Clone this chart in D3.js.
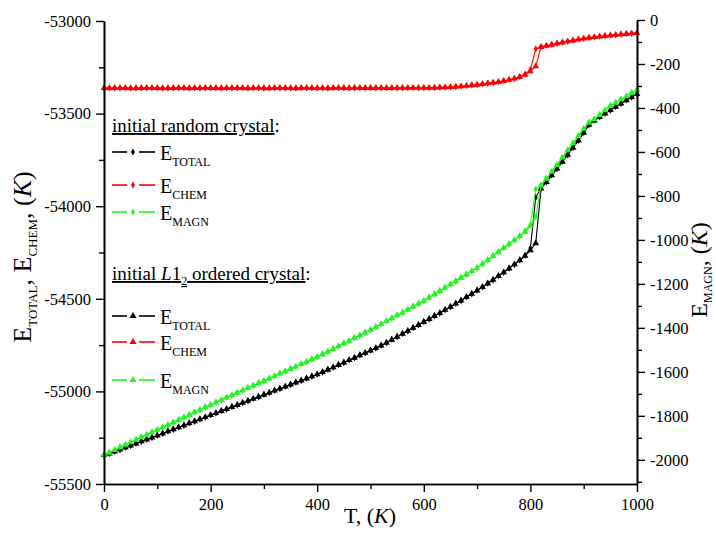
<!DOCTYPE html>
<html><head><meta charset="utf-8">
<script src="https://cdn.jsdelivr.net/npm/d3@7"></script>
<style>
body{margin:0;background:#fff}
svg{display:block}
svg text{font-family:"Liberation Serif","Times New Roman",serif !important;fill:#000}
</style>
</head><body>
<svg id="chart" width="716" height="538"></svg>
<script>
// ---------------- data ----------------
const tempK = [0,10,20,30,40,50,60,70,80,90,100,110,120,130,140,150,160,170,180,190,
200,210,220,230,240,250,260,270,280,290,300,310,320,330,340,350,360,370,380,390,
400,410,420,430,440,450,460,470,480,490,500,510,520,530,540,550,560,570,580,590,
600,610,620,630,640,650,660,670,680,690,700,710,720,730,740,750,760,770,780,790,
800,810,820,830,840,850,860,870,880,890,900,910,920,930,940,950,960,970,980,990,1000];

// initial L1_2 ordered crystal
const l12Total = [-55344,-55335,-55325,-55314,-55303,-55292,-55281,-55270,-55260,-55249,
-55238,-55227,-55216,-55205,-55194,-55183,-55172,-55161,-55150,-55139,
-55128,-55117,-55106,-55095,-55084,-55073,-55062,-55051,-55040,-55029,
-55018,-55007,-54996,-54985,-54974,-54963,-54952,-54941,-54930,-54919,
-54908,-54896,-54883,-54870,-54857,-54844,-54831,-54818,-54805,-54792,
-54779,-54766,-54752,-54737,-54721,-54705,-54689,-54673,-54657,-54641,
-54625,-54609,-54593,-54577,-54560,-54543,-54526,-54509,-54491,-54473,
-54455,-54436,-54417,-54397,-54377,-54357,-54336,-54314,-54292,-54268,
-54238,-54200,-53905,-53870,-53833,-53797,-53760,-53722,-53684,-53645,
-53603,-53560,-53538,-53518,-53499,-53481,-53463,-53445,-53428,-53411,-53394];

const l12Chem = [-53362,-53363,-53362,-53361,-53362,-53363,-53362,-53362,-53361,-53362,
-53362,-53363,-53362,-53362,-53361,-53362,-53363,-53362,-53362,-53361,
-53362,-53362,-53363,-53362,-53361,-53362,-53362,-53363,-53362,-53361,
-53362,-53363,-53362,-53361,-53362,-53362,-53363,-53362,-53361,-53362,
-53362,-53362,-53363,-53362,-53361,-53362,-53362,-53361,-53362,-53362,
-53362,-53362,-53361,-53362,-53362,-53361,-53361,-53362,-53361,-53361,
-53361,-53361,-53360,-53359,-53358,-53357,-53355,-53353,-53350,-53347,
-53344,-53341,-53337,-53333,-53329,-53324,-53318,-53311,-53302,-53290,
-53272,-53245,-53140,-53134,-53128,-53122,-53116,-53110,-53105,-53100,
-53095,-53091,-53087,-53084,-53081,-53078,-53075,-53072,-53070,-53067,-53065];

const l12Magn = [-1977,-1968,-1955,-1943,-1932,-1920,-1909,-1897,-1886,-1875,
-1864,-1853,-1841,-1830,-1818,-1807,-1796,-1784,-1773,-1761,
-1750,-1739,-1728,-1717,-1706,-1695,-1684,-1673,-1662,-1652,
-1641,-1630,-1619,-1608,-1597,-1587,-1576,-1565,-1554,-1543,
-1532,-1520,-1508,-1495,-1483,-1471,-1459,-1446,-1434,-1421,
-1409,-1396,-1383,-1369,-1356,-1343,-1330,-1317,-1303,-1290,
-1277,-1262,-1247,-1232,-1217,-1202,-1187,-1172,-1157,-1142,
-1127,-1109,-1091,-1073,-1055,-1037,-1019,-1001,-982,-964,
-936,-898,-753,-722,-690,-659,-626,-593,-561,-528,
-495,-466,-451,-432,-411,-391,-376,-361,-347,-332,-318];

// initial random crystal
const rndTotal = [-55346,-55336,-55324,-55316,-55302,-55293,-55280,-55271,-55259,-55250,
-55237,-55228,-55215,-55206,-55193,-55184,-55171,-55162,-55149,-55140,
-55127,-55118,-55105,-55096,-55083,-55074,-55061,-55052,-55039,-55030,
-55017,-55008,-54995,-54986,-54973,-54964,-54951,-54942,-54929,-54920,
-54907,-54897,-54882,-54871,-54856,-54845,-54830,-54819,-54804,-54793,
-54778,-54767,-54751,-54738,-54720,-54706,-54688,-54674,-54656,-54642,
-54624,-54610,-54592,-54578,-54559,-54544,-54525,-54510,-54490,-54474,
-54454,-54437,-54416,-54398,-54376,-54358,-54335,-54315,-54291,-54266,
-54226,-53952,-53903,-53869,-53832,-53798,-53759,-53723,-53683,-53646,
-53602,-53561,-53537,-53519,-53498,-53482,-53462,-53446,-53427,-53412,-53393];

const rndChem = [-53363,-53362,-53362,-53362,-53361,-53362,-53363,-53362,-53362,-53361,
-53362,-53362,-53363,-53362,-53362,-53361,-53362,-53362,-53363,-53362,
-53361,-53362,-53362,-53362,-53363,-53362,-53361,-53362,-53362,-53362,
-53363,-53362,-53361,-53362,-53362,-53363,-53362,-53361,-53362,-53362,
-53363,-53362,-53362,-53361,-53362,-53362,-53363,-53362,-53361,-53362,
-53361,-53362,-53362,-53361,-53361,-53362,-53362,-53361,-53361,-53362,
-53360,-53361,-53360,-53358,-53358,-53356,-53355,-53352,-53350,-53346,
-53343,-53340,-53336,-53333,-53328,-53323,-53317,-53310,-53300,-53287,
-53262,-53150,-53139,-53133,-53127,-53121,-53115,-53110,-53104,-53099,
-53094,-53090,-53087,-53083,-53080,-53077,-53075,-53072,-53069,-53067,-53064];

const rndMagn = [-1979,-1966,-1956,-1942,-1933,-1919,-1910,-1896,-1887,-1874,
-1865,-1852,-1842,-1829,-1819,-1806,-1797,-1783,-1774,-1760,
-1751,-1738,-1729,-1716,-1707,-1694,-1685,-1672,-1663,-1651,
-1642,-1629,-1620,-1607,-1598,-1586,-1577,-1564,-1555,-1542,
-1533,-1519,-1509,-1494,-1484,-1470,-1460,-1445,-1435,-1420,
-1410,-1395,-1384,-1368,-1357,-1342,-1331,-1316,-1304,-1289,
-1278,-1261,-1248,-1231,-1218,-1201,-1188,-1171,-1158,-1141,
-1128,-1108,-1092,-1072,-1056,-1036,-1020,-1000,-983,-958,
-930,-770,-751,-721,-691,-658,-627,-592,-562,-527,
-496,-465,-452,-431,-412,-390,-377,-360,-348,-331,-319];

const xTicks = [0,200,400,600,800,1000];
const xMinor = [100,300,500,700,900];
const leftTicks = [-55500,-55000,-54500,-54000,-53500,-53000];
const leftMinor = [-55250,-54750,-54250,-53750,-53250];
const rightTicks = [-2000,-1800,-1600,-1400,-1200,-1000,-800,-600,-400,-200,0];
const rightMinor = [-2100,-1900,-1700,-1500,-1300,-1100,-900,-700,-500,-300,-100];

// ---------------- drawing ----------------
const FONT = '"Liberation Serif","Times New Roman",serif';
const svg = d3.select("#chart");
svg.append("rect").attr("width",716).attr("height",538).attr("fill","#fff");

const x = d3.scaleLinear().domain([0,1000]).range([104,637]);
const yL = d3.scaleLinear().domain([-55500,-53000]).range([484,21]);
const yR = d3.scaleLinear().domain([-2110,0]).range([484,20]);

const BLACK="#000", RED="#ff0000", GREEN="#22f522";

function styleAxis(g){
  g.attr("font-family",FONT).style("font-family",FONT);
  g.selectAll("path.domain").attr("stroke","#000").attr("stroke-width",1.6);
  g.selectAll(".tick line").attr("stroke","#000").attr("stroke-width",1.4);
  g.selectAll(".tick text").style("font-family",FONT).attr("font-size",16.5).attr("fill","#000");
}

// series
function drawSeries(vals, scale, color, sym, size){
  const pts = tempK.map((t,i)=>[x(t), scale(vals[i])]);
  const gg = svg.append("g");
  gg.append("path").attr("d", d3.line()(pts)).attr("fill","none")
    .attr("stroke",color).attr("stroke-width",1.1);
  gg.selectAll("path.m").data(pts).join("path").attr("class","m")
    .attr("transform", d=>`translate(${d[0]},${d[1]})`)
    .attr("d", d3.symbol(sym,size)()).attr("fill",color);
}
drawSeries(rndTotal, yL, BLACK, d3.symbolDiamond, 14);
drawSeries(rndChem, yL, RED, d3.symbolDiamond, 14);
drawSeries(rndMagn, yR, GREEN, d3.symbolDiamond, 14);
drawSeries(l12Total, yL, BLACK, d3.symbolTriangle, 20);
drawSeries(l12Chem, yL, RED, d3.symbolTriangle, 20);
drawSeries(l12Magn, yR, GREEN, d3.symbolTriangle, 20);

// axes
const gx = svg.append("g").attr("transform","translate(0,484)")
  .call(d3.axisBottom(x).tickValues(xTicks).tickSize(8).tickSizeOuter(0).tickPadding(6).tickFormat(d=>String(d)));
styleAxis(gx);
const gxm = svg.append("g").attr("transform","translate(0,484)")
  .call(d3.axisBottom(x).tickValues(xMinor).tickSize(5).tickSizeOuter(0).tickFormat(""));
styleAxis(gxm);

const gl = svg.append("g").attr("transform","translate(104,0)")
  .call(d3.axisLeft(yL).tickValues(leftTicks).tickSize(8).tickSizeOuter(0).tickPadding(5).tickFormat(d=>String(d)));
styleAxis(gl);
const glm = svg.append("g").attr("transform","translate(104,0)")
  .call(d3.axisLeft(yL).tickValues(leftMinor).tickSize(5).tickSizeOuter(0).tickFormat(""));
styleAxis(glm);

const gr = svg.append("g").attr("transform","translate(637,0)")
  .call(d3.axisRight(yR).tickValues(rightTicks).tickSize(8).tickSizeOuter(0).tickPadding(5).tickFormat(d=>String(d)));
styleAxis(gr);
const grm = svg.append("g").attr("transform","translate(637,0)")
  .call(d3.axisRight(yR).tickValues(rightMinor).tickSize(5).tickSizeOuter(0).tickFormat(""));
styleAxis(grm);

// axis titles
const xt = svg.append("text").attr("x",370).attr("y",523).attr("text-anchor","middle").attr("font-size",22);
xt.append("tspan").text("T, (");
xt.append("tspan").attr("font-style","italic").text("K");
xt.append("tspan").text(")");

const lt = svg.append("text").attr("transform","translate(31,257) rotate(-90)")
  .attr("text-anchor","middle").attr("font-size",26);
lt.append("tspan").text("E");
lt.append("tspan").attr("font-size",13).attr("dy",6).text("TOTAL");
lt.append("tspan").attr("dy",-6).text(", E");
lt.append("tspan").attr("font-size",13).attr("dy",6).text("CHEM");
lt.append("tspan").attr("dy",-6).text(", (");
lt.append("tspan").attr("font-style","italic").text("K");
lt.append("tspan").text(")");

const rt = svg.append("text").attr("transform","translate(707,270) rotate(-90)")
  .attr("text-anchor","middle").attr("font-size",24);
rt.append("tspan").text("E");
rt.append("tspan").attr("font-size",12).attr("dy",5).text("MAGN");
rt.append("tspan").attr("dy",-5).text(", (");
rt.append("tspan").attr("font-style","italic").text("K");
rt.append("tspan").text(")");

// legend
function header(yb, parts){
  const t = svg.append("text").attr("x",112).attr("y",yb).attr("font-size",19);
  parts(t);
}
header(132, t=>{
  t.append("tspan").attr("text-decoration","underline").text("initial random crystal");
  t.append("tspan").text(":");
});
header(280, t=>{
  t.append("tspan").attr("text-decoration","underline").text("initial ");
  t.append("tspan").attr("text-decoration","underline").attr("font-style","italic").text("L");
  t.append("tspan").attr("text-decoration","underline").text("1");
  t.append("tspan").attr("text-decoration","underline").attr("font-size",12).attr("dy",5).text("2");
  t.append("tspan").attr("dy",-5).attr("text-decoration","underline").text(" ordered crystal");
  t.append("tspan").text(":");
});

const legendRows = [
  {y:152, c:BLACK, s:d3.symbolDiamond, sz:14, sub:"TOTAL"},
  {y:185, c:RED, s:d3.symbolDiamond, sz:14, sub:"CHEM"},
  {y:212, c:GREEN, s:d3.symbolDiamond, sz:14, sub:"MAGN"},
  {y:316, c:BLACK, s:d3.symbolTriangle, sz:22, sub:"TOTAL"},
  {y:342, c:RED, s:d3.symbolTriangle, sz:22, sub:"CHEM"},
  {y:380, c:GREEN, s:d3.symbolTriangle, sz:22, sub:"MAGN"}
];
legendRows.forEach(r=>{
  svg.append("line").attr("x1",112).attr("x2",127).attr("y1",r.y).attr("y2",r.y).attr("stroke",r.c).attr("stroke-width",1.6);
  svg.append("line").attr("x1",139).attr("x2",155).attr("y1",r.y).attr("y2",r.y).attr("stroke",r.c).attr("stroke-width",1.6);
  svg.append("path").attr("transform",`translate(133,${r.y})`).attr("d",d3.symbol(r.s,r.sz)()).attr("fill",r.c);
  const t = svg.append("text").attr("x",160).attr("y",r.y+8).attr("font-size",20);
  t.append("tspan").text("E");
  t.append("tspan").attr("font-size",12).attr("dy",6).text(r.sub);
});
</script>
</body></html>
